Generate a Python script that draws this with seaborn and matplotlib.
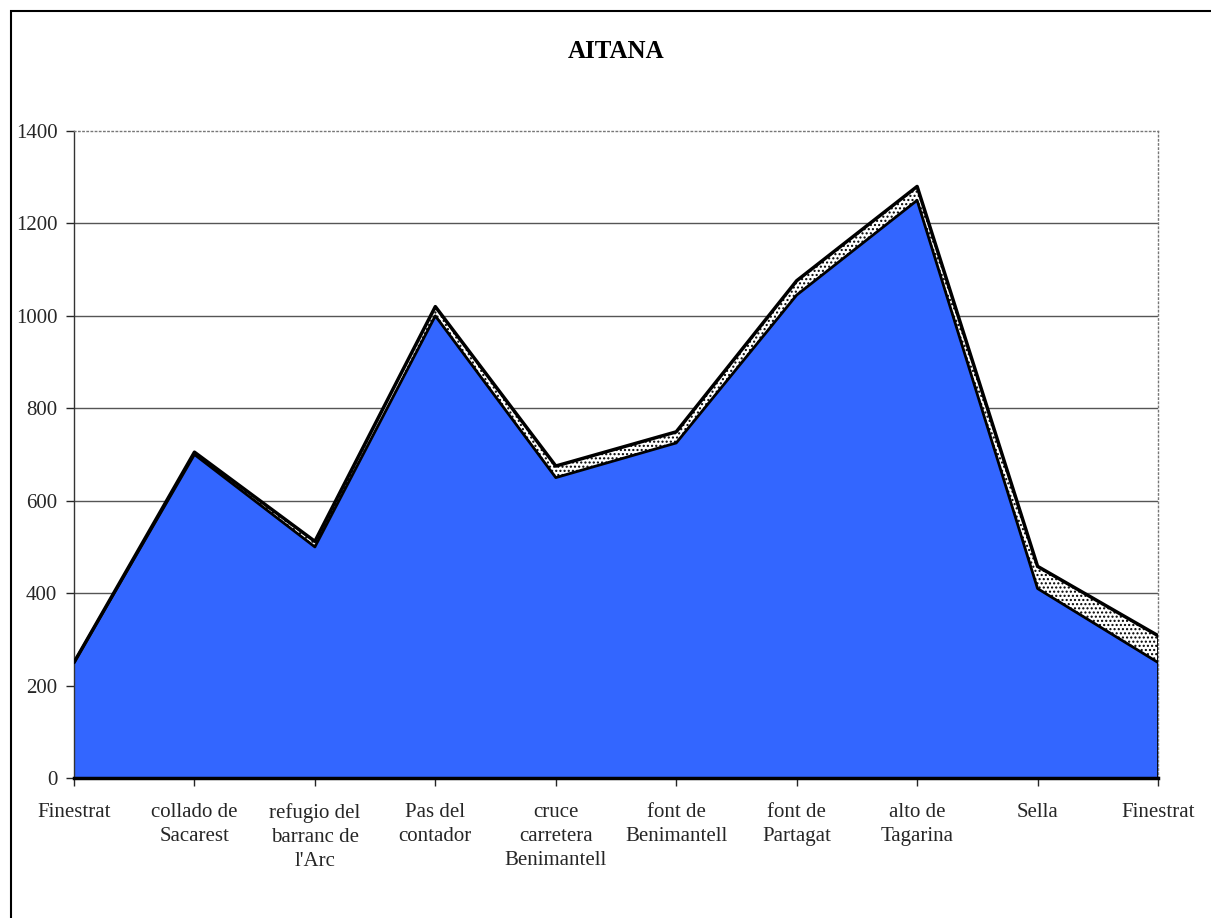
import pandas as pd
import matplotlib
matplotlib.use("Agg")
import matplotlib.pyplot as plt
import seaborn as sns

# data
places = ["Finestrat", "collado de\nSacarest", "refugio del\nbarranc de\nl'Arc",
          "Pas del\ncontador", "cruce\ncarretera\nBenimantell", "font de\nBenimantell",
          "font de\nPartagat", "alto de\nTagarina", "Sella", "Finestrat"]
altitude = [250, 700, 500, 1000, 650, 725, 1045, 1250, 410, 250]
extra = [0, 5, 12, 20, 25, 24, 31, 30, 48, 58]

df = pd.DataFrame({"pos": range(len(places)), "altitude": altitude, "extra": extra})
df["top"] = df["altitude"] + df["extra"]

sns.set_style("white")
plt.rcParams['font.family'] = ['Liberation Serif', 'DejaVu Serif']
plt.rcParams['hatch.linewidth'] = 1.0

fig = plt.figure(figsize=(12.11, 9.18), dpi=100)
ax = fig.add_axes([74 / 1211, 1 - 778 / 918, (1158 - 74) / 1211, (778 - 131) / 918])

# gridlines behind the areas
for v in range(200, 1400, 200):
    ax.axhline(v, color="#555555", lw=1, zorder=0)

ax.fill_between(df["pos"], 0, df["altitude"], color="#3366FF", lw=0, zorder=2)
ax.fill_between(df["pos"], df["altitude"], df["top"], facecolor="white",
                edgecolor="black", hatch="....", lw=0, zorder=2)
sns.lineplot(x="pos", y="altitude", data=df, color="black", lw=2, ax=ax, zorder=3)
sns.lineplot(x="pos", y="top", data=df, color="black", lw=2.5, ax=ax, zorder=3)
ax.plot([9, 9], [0, df["top"].iloc[-1]], color="black", lw=2, zorder=3)

ax.set_xlim(0, 9)
ax.set_ylim(0, 1400)
ax.set_yticks(range(0, 1401, 200))
ax.set_xticks(df["pos"])
ax.set_xticklabels(places, fontsize=15, linespacing=1.35)
ax.tick_params(axis="y", labelsize=15, length=6, width=1, direction="out", left=True, pad=6)
ax.tick_params(axis="x", length=6, width=1, direction="out", bottom=True, pad=12)
ax.set_xlabel("")
ax.set_ylabel("")

for s in ["top", "right"]:
    ax.spines[s].set_linestyle((0, (1, 2)))
    ax.spines[s].set_color("#777777")
    ax.spines[s].set_linewidth(1)
ax.spines["left"].set_color("#333333")
ax.spines["left"].set_linewidth(1)
ax.spines["bottom"].set_color("black")
ax.spines["bottom"].set_linewidth(2.5)
ax.spines["bottom"].set_zorder(4)

fig.text(616 / 1211, 1 - 52 / 918, "AITANA", ha="center", va="center",
         fontsize=18, fontweight="bold", color="black")

# outer chart frame (runs off the right and bottom edges)
fig.patches.append(plt.Rectangle((11 / 1211, -0.05), 1.1, 1.05 - 11 / 918,
                                 transform=fig.transFigure,
                                 fill=False, edgecolor="black", lw=1.5))

fig.savefig("out.png", dpi=100)
